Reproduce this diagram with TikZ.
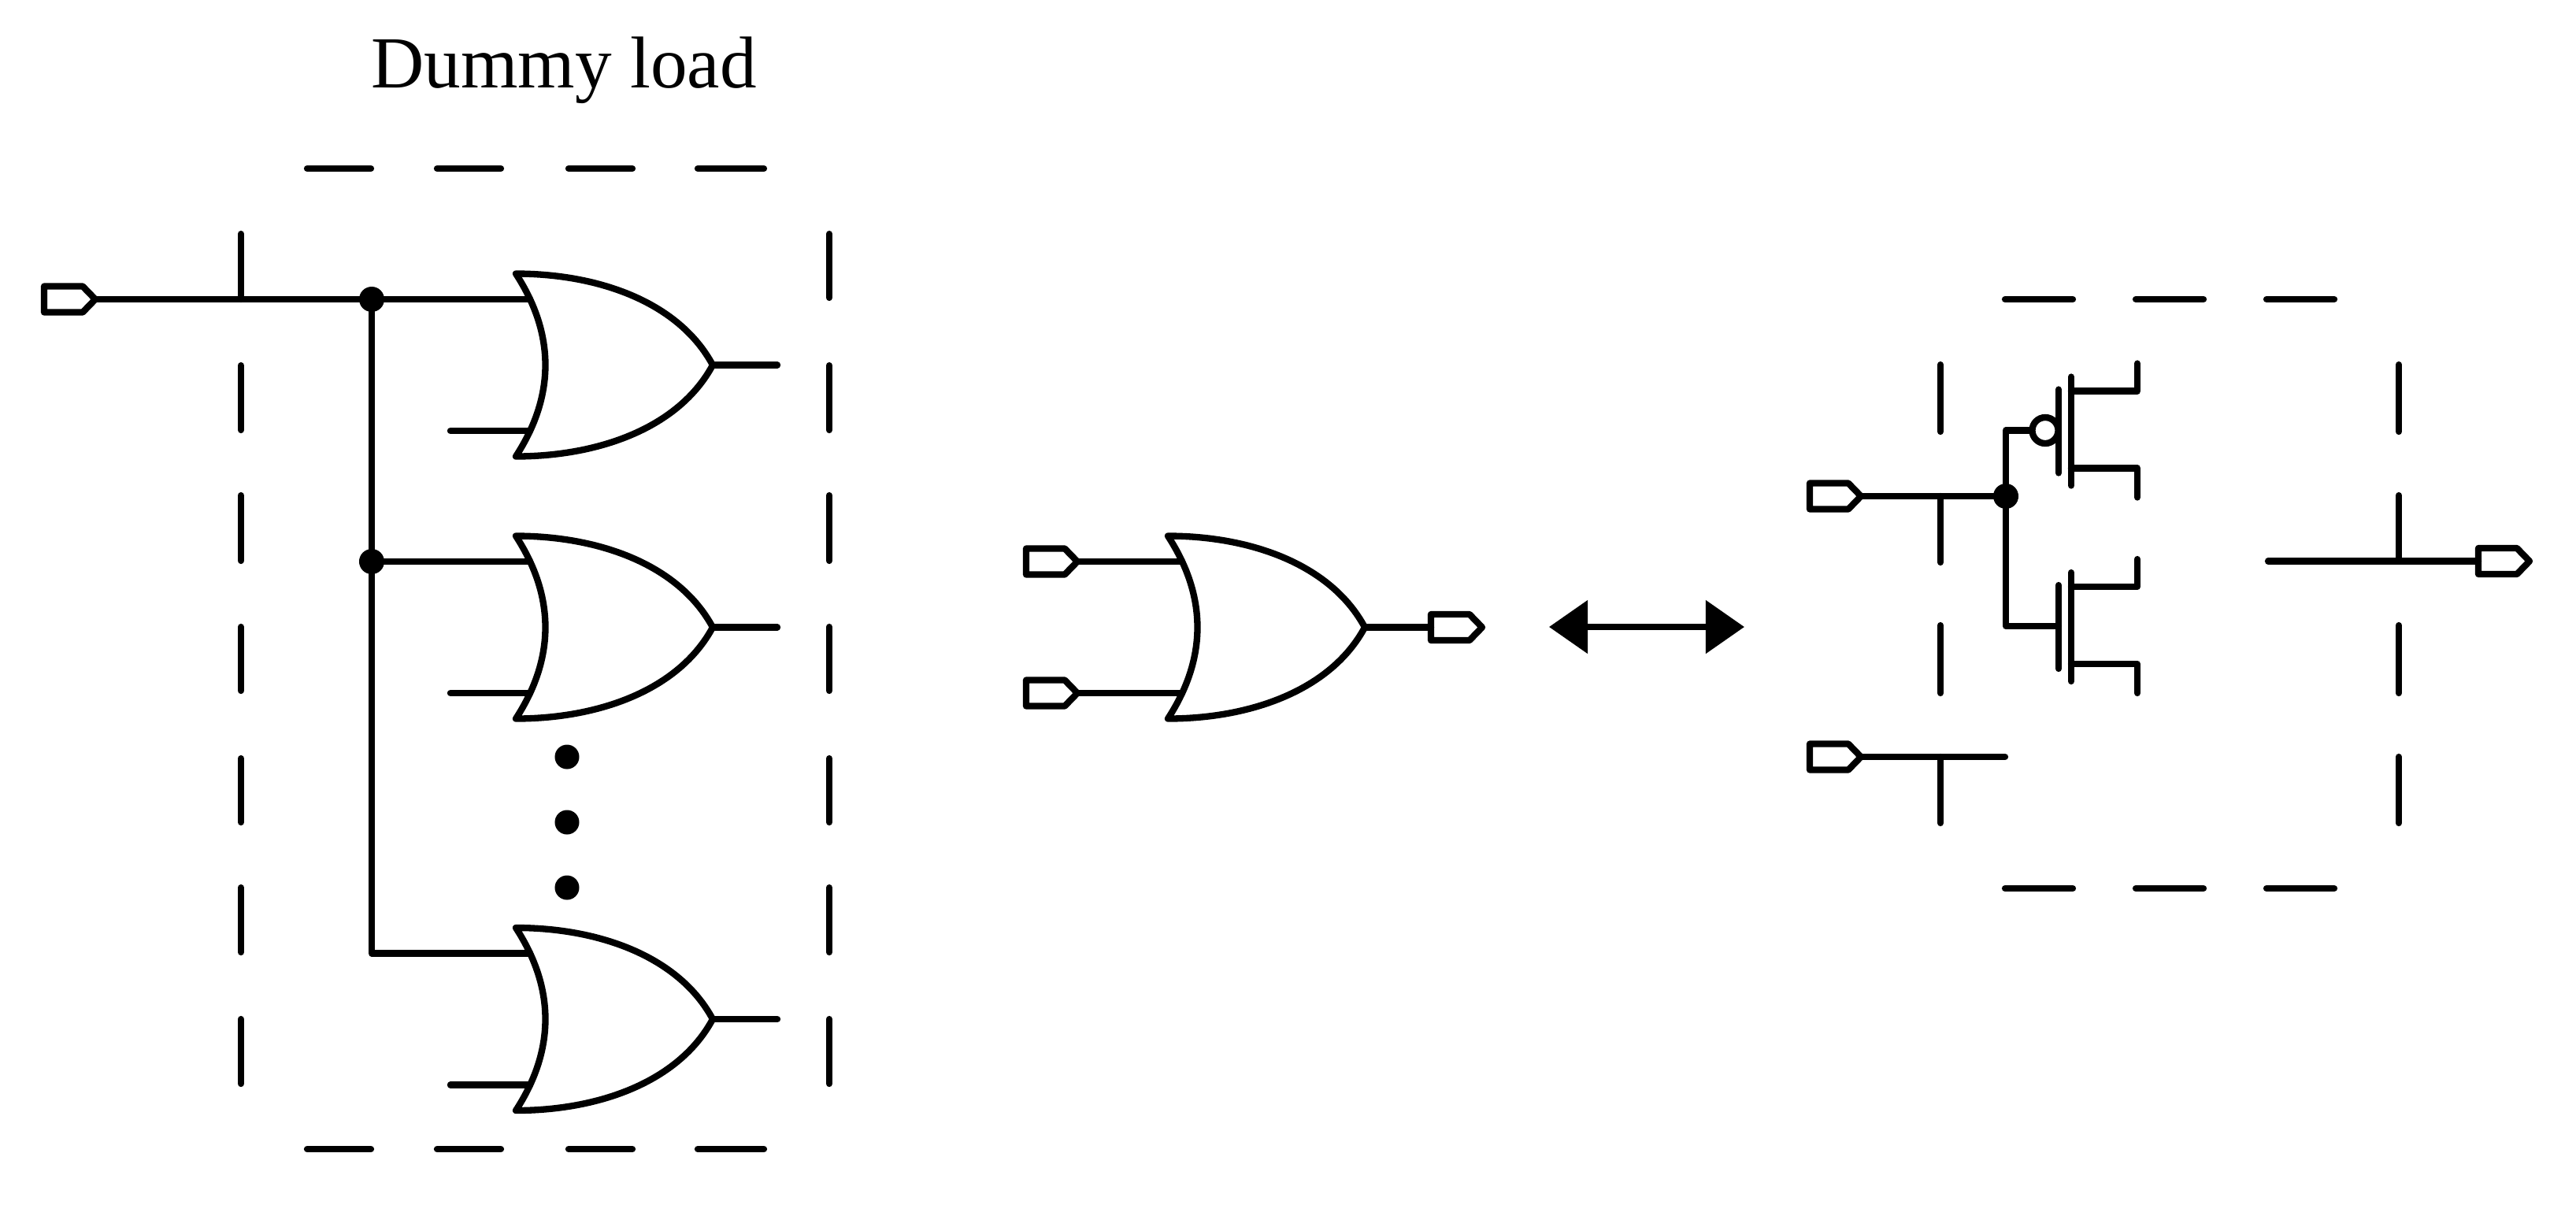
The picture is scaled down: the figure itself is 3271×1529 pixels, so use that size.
\documentclass[tikz,border=0pt]{standalone}
\usepackage{fontspec}
\setmainfont{Liberation Serif}
\usetikzlibrary{arrows.meta}
\tikzset{
  wire/.style={line width=0.083cm,line cap=round,line join=round,black},
  dashseg/.style={wire,shorten >=0.02cm,shorten <=0.02cm},
  dot/.style={circle,fill=black,draw=none,inner sep=0pt,minimum size=0.32cm},
  smalldot/.style={circle,fill=black,draw=none,inner sep=0pt,minimum size=0.31cm},
  bubble/.style={circle,draw=black,fill=white,line width=0.083cm,inner sep=0pt,minimum size=0.33cm},
  orgate/.pic={
    \draw[wire] (0,-116)
      .. controls (50,-39) and (50,39) .. (0,116)
      .. controls (105,116) and (207,80) .. (250,0)
      .. controls (207,-80) and (105,-116) .. cycle;
    \coordinate (-in1) at (18,-83.5);
    \coordinate (-in2) at (18,83.5);
    \coordinate (-out) at (250,0);
  },
  portsym/.pic={
    \draw[wire] (0,-16.5) -- (49,-16.5) -- (65,0) -- (49,16.5) -- (0,16.5) -- cycle;
    \coordinate (-tip) at (65,0);
    \coordinate (-back) at (0,0);
  },
  pmosbars/.pic={
    \draw[wire] (0,-52) -- (0,54);
    \draw[wire] (16,-68) -- (16,70);
    \coordinate (-g) at (0,0);
    \draw[wire] (16,-50) -- (100,-50) -- (100,-85);
    \draw[wire] (16,48) -- (100,48) -- (100,85);
  }
}
\begin{document}
\begin{tikzpicture}[x=0.01cm,y=-0.01cm]
\useasboundingbox (0,-1) rectangle (3271,1528);
\node[font=\fontsize{26.5pt}{30pt}\selectfont,anchor=base] (title) at (716,110) {Dummy load};

% left dashed box
\foreach \a/\b in {461/547,626/713,793/878,960/1045,1124/1210,1291/1377}{
  \draw[dashseg] (306,\a) -- (306,\b);
}
\foreach \a/\b in {294/379,461/547,626/713,793/878,960/1045,1124/1210,1291/1377}{
  \draw[dashseg] (1053,\a) -- (1053,\b);
}
\draw[wire,shorten >=0.02cm] (306,379) -- (306,294);
\foreach \a/\b in {388/473,553/638,720/805,884/972}{
  \draw[dashseg] (\a,213) -- (\b,213);
  \draw[dashseg] (\a,1458) -- (\b,1458);
}

% left gates
\pic (g1) at (655,462.5) {orgate};
\pic (g2) at (655,795.5) {orgate};
\pic (g3) at (655,1293) {orgate};
\pic (pA) at (56,379) {portsym};
\node[dot] (j1) at (472,379) {};
\node[dot] (j2) at (472,712) {};
\coordinate (c3) at (472,1209.5);
\draw[wire] (pA-tip) -- (j1.center) -- (g1-in1);
\draw[wire] (j1.center) -- (j2.center) -- (c3) -- (g3-in1);
\draw[wire] (j2.center) -- (g2-in1);
\foreach \g in {g1,g2,g3}{
  \coordinate (\g-s) at ([xshift=-1.01cm]\g-in2);
  \coordinate (\g-e) at ([xshift=0.82cm]\g-out);
  \draw[wire] (\g-s) -- (\g-in2);
  \draw[wire] (\g-out) -- (\g-e);
}
\node[smalldot] (d1) at (720,960) {};
\node[smalldot] (d2) at (720,1043) {};
\node[smalldot] (d3) at (720,1126) {};

% middle gate
\pic (g4) at (1483,795.5) {orgate};
\pic (pB) at (1303,712) {portsym};
\pic (pC) at (1303,879) {portsym};
\pic (pD) at (1817,795.5) {portsym};
\draw[wire] (pB-tip) -- (g4-in1);
\draw[wire] (pC-tip) -- (g4-in2);
\draw[wire] (g4-out) -- (pD-back);

% double arrow
\coordinate (a1) at (1967,795);
\coordinate (a2) at (2215,795);
\draw[line width=0.083cm,{Triangle[length=0.49cm,width=0.66cm]}-{Triangle[length=0.49cm,width=0.66cm]}] (a1) -- (a2);

% right dashed box
\foreach \a/\b in {460/549,791/881}{
  \draw[dashseg] (2464,\a) -- (2464,\b);
  \draw[dashseg] (3046,\a) -- (3046,\b);
}
\draw[wire,shorten >=0.02cm] (2464,629) -- (2464,715);
\draw[wire,shorten >=0.02cm] (2464,960) -- (2464,1046);
\draw[wire,shorten <=0.02cm] (3046,626) -- (3046,711);
\draw[dashseg] (3046,958) -- (3046,1046);
\foreach \a/\b in {2544/2634,2710/2800,2876/2966}{
  \draw[dashseg] (\a,379) -- (\b,379);
  \draw[dashseg] (\a,1127) -- (\b,1127);
}

% transistors
\pic (mp) at (2614,545.5) {pmosbars};
\pic (mn) at (2614,794) {pmosbars};
\node[dot] (j3) at (2547,629) {};
\node[bubble] (bb) at (2597,545.5) {};
\pic (pE) at (2298,629) {portsym};
\pic (pF) at (2298,960) {portsym};
\pic (pG) at (3147,711.5) {portsym};
\coordinate (cp) at (2547,545.5);
\coordinate (cn) at (2547,794);
\coordinate (oS) at (2880,711.5);
\coordinate (fE) at (2546,960);
\draw[wire] (pE-tip) -- (j3.center);
\draw[wire] (bb.west) -- (cp) -- (j3.center) -- (cn) -- (mn-g);
\draw[wire] (oS) -- (pG-back);
\draw[wire] (pF-tip) -- (fE);
\end{tikzpicture}
\end{document}
